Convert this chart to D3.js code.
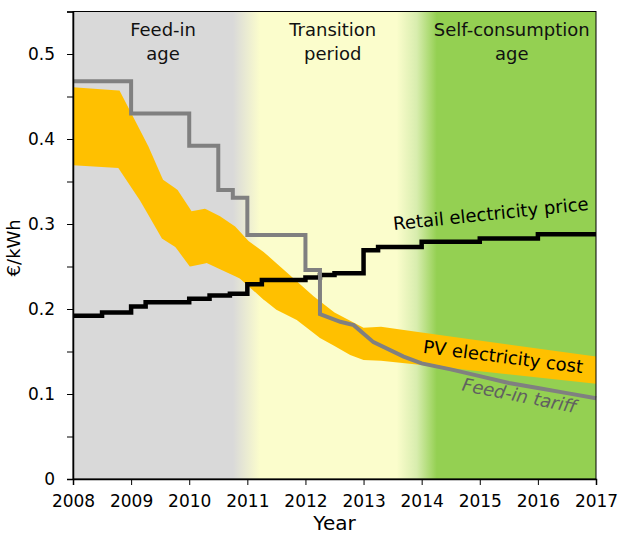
<!DOCTYPE html>
<html><head><meta charset="utf-8">
<script src="https://cdn.jsdelivr.net/npm/d3@7"></script>
<style>
body{margin:0;background:#fff;}
text{font-family:"DejaVu Sans",Verdana,sans-serif;}
</style></head>
<body><svg id="chart" width="626" height="540"></svg>
<script>
// ---- data ----
const xTickYears = [2008,2009,2010,2011,2012,2013,2014,2015,2016,2017];
const yTickValues = [0,0.05,0.1,0.15,0.2,0.25,0.3,0.35,0.4,0.45,0.5,0.55];
const yLabelValues = [0,0.1,0.2,0.3,0.4,0.5];

// retail electricity price (step-after)
const retailPrice = [
  [2008.0,0.192],[2008.5,0.196],[2009.0,0.203],[2009.25,0.208],[2010.0,0.212],
  [2010.35,0.216],[2010.7,0.218],[2011.0,0.229],[2011.25,0.234],[2012.0,0.237],
  [2012.25,0.240],[2012.5,0.242],[2013.0,0.269],[2013.25,0.273],[2014.0,0.279],
  [2015.0,0.283],[2016.0,0.288],[2017.0,0.288]
];
// feed-in tariff: steps until 2012.25, then continuous decline
const tariffSteps = [
  [2008.0,0.468],[2009.0,0.430],[2010.0,0.392],[2010.5,0.340],[2010.75,0.331],
  [2011.0,0.287],[2012.0,0.246]
];
const tariffDecline = [
  [2012.25,0.194],[2012.6,0.185],[2012.83,0.181],[2013.17,0.161],[2013.69,0.144],
  [2014.0,0.136],[2014.5,0.129],[2015.0,0.121],[2015.5,0.113],[2016.0,0.107],
  [2016.5,0.101],[2017.0,0.095]
];
// PV electricity cost band
const pvUpper = [
  [2008.0,0.461],[2008.8,0.457],[2009.3,0.391],[2009.55,0.352],[2009.8,0.340],
  [2010.04,0.315],[2010.27,0.318],[2010.53,0.309],[2010.79,0.297],[2011.02,0.280],
  [2011.3,0.266],[2011.68,0.243],[2012.14,0.215],[2012.5,0.196],[2013.0,0.178],
  [2013.3,0.179],[2017.0,0.144]
];
const pvLower = [
  [2008.0,0.369],[2008.78,0.366],[2009.15,0.328],[2009.53,0.283],[2009.76,0.273],
  [2010.01,0.250],[2010.3,0.254],[2010.87,0.236],[2011.0,0.228],[2011.28,0.211],
  [2011.5,0.199],[2011.85,0.187],[2012.25,0.166],[2012.77,0.146],[2013.0,0.140],
  [2013.3,0.139],[2014.0,0.134],[2017.0,0.112]
];
// background periods
const periodNames = [["Feed-in","age"],["Transition","period"],["Self-consumption","age"]];
const periodCenters = [2009.55, 2012.47, 2015.55];
const periodColors = ["#d9d9d9","#fbfdcc","#94d052"];
const periodFades = [[2010.75,2011.22],[2013.57,2014.26]];

// ---- layout ----
const svg = d3.select("#chart");
const L=73, R=596, T=11.5, B=479;
const x = d3.scaleLinear().domain([2008,2017]).range([L,R]);
const y = d3.scaleLinear().domain([0,0.55]).range([B,T]);
const FS = 17, LFS = 18;

// background gradient
const defs = svg.append("defs");
const grad = defs.append("linearGradient").attr("id","bg")
  .attr("gradientUnits","userSpaceOnUse")
  .attr("x1",x(2008)).attr("x2",x(2017)).attr("y1",0).attr("y2",0);
const off = v => (x(v)-x(2008))/(x(2017)-x(2008));
const stops = [
  [0,periodColors[0]],
  [off(periodFades[0][0]),periodColors[0]],
  [off(periodFades[0][1]),periodColors[1]],
  [off(periodFades[1][0]),periodColors[1]],
  [off((periodFades[1][0]+periodFades[1][1])/2),"#d8edae"],
  [off(periodFades[1][1]),periodColors[2]],
  [1,periodColors[2]]
];
grad.selectAll("stop").data(stops).join("stop")
  .attr("offset",d=>d[0]).attr("stop-color",d=>d[1]);

svg.append("rect").attr("x",L).attr("y",T).attr("width",R-L).attr("height",B-T)
  .attr("fill","url(#bg)");

// period titles
periodNames.forEach((lines,i)=>{
  const t = svg.append("text").attr("text-anchor","middle")
    .attr("font-size",LFS).attr("fill","#111");
  lines.forEach((s,j)=>{
    t.append("tspan").attr("x",x(periodCenters[i])).attr("y",36+j*24).text(s);
  });
});

// PV band
const area = d3.area()
  .x(d=>x(d[0])).y0(d=>y(d[2])).y1(d=>y(d[1]));
const bandXs = Array.from(new Set(pvUpper.map(d=>d[0]).concat(pvLower.map(d=>d[0])))).sort((a,b)=>a-b);
const interp = (arr,v)=>{
  for(let i=0;i<arr.length-1;i++){
    if(v>=arr[i][0] && v<=arr[i+1][0]){
      const t=(v-arr[i][0])/(arr[i+1][0]-arr[i][0]);
      return arr[i][1]+t*(arr[i+1][1]-arr[i][1]);
    }
  }
  return arr[arr.length-1][1];
};
const band = bandXs.map(v=>[v,interp(pvUpper,v),interp(pvLower,v)]);
svg.append("path").attr("d",area(band)).attr("fill","#ffc000");

// retail price
const stepLine = d3.line().x(d=>x(d[0])).y(d=>y(d[1])).curve(d3.curveStepAfter);
svg.append("path").attr("d",stepLine(retailPrice))
  .attr("fill","none").attr("stroke","#000").attr("stroke-width",4.5);

// feed-in tariff
const tariffPts = [];
tariffSteps.forEach((d,i)=>{
  tariffPts.push(d);
  const nx = i<tariffSteps.length-1 ? tariffSteps[i+1][0] : tariffDecline[0][0];
  tariffPts.push([nx,d[1]]);
});
tariffDecline.forEach(d=>tariffPts.push(d));
const line = d3.line().x(d=>x(d[0])).y(d=>y(d[1]));
svg.append("path").attr("d",line(tariffPts))
  .attr("fill","none").attr("stroke","#808080").attr("stroke-width",4)
  .attr("stroke-linejoin","miter");

// series labels
const labels = [
  {t:"Retail electricity price", yr:2015.20, v:0.3047, a:-5.9, c:"#000", it:false},
  {t:"PV electricity cost", yr:2015.39, v:0.1365, a:7.3, c:"#000", it:false},
  {t:"Feed-in tariff", yr:2015.66, v:0.0909, a:11.3, c:"#606060", it:true}
];
labels.forEach(d=>{
  svg.append("text").attr("text-anchor","middle").attr("font-size",LFS)
    .attr("fill",d.c).attr("font-style",d.it?"italic":"normal")
    .attr("transform",`translate(${x(d.yr)},${y(d.v)}) rotate(${d.a})`)
    .text(d.t);
});

// frame
svg.append("rect").attr("x",L).attr("y",T).attr("width",R-L).attr("height",B-T)
  .attr("fill","none").attr("stroke","#000").attr("stroke-width",1);

// axes
const xAxis = d3.axisBottom(x).tickValues(xTickYears).tickFormat(d3.format("d")).tickSize(6).tickPadding(10);
const gx = svg.append("g").attr("transform",`translate(0,${B})`).call(xAxis);
const yAxis = d3.axisLeft(y).tickValues(yTickValues)
  .tickFormat(d=> yLabelValues.some(v=>Math.abs(v-d)<1e-9) ? (d===0?"0":d3.format(".1f")(d)) : "")
  .tickSize(6).tickPadding(12);
const gy = svg.append("g").attr("transform",`translate(${L},0)`).call(yAxis);
[gx,gy].forEach(g=>{
  g.select(".domain").attr("stroke","#000").attr("stroke-width",1.5);
  g.selectAll(".tick line").attr("stroke","#000").attr("stroke-width",1);
  g.selectAll(".tick text").attr("font-size",FS).attr("fill","#000")
    .attr("font-family","'DejaVu Sans',Verdana,sans-serif");
});

// axis titles
svg.append("text").attr("x",(L+R)/2).attr("y",530).attr("text-anchor","middle")
  .attr("font-size",20).attr("fill","#000").text("Year");
svg.append("text").attr("transform",`translate(20,${y(0.272)}) rotate(-90)`)
  .attr("text-anchor","middle").attr("font-size",18).attr("fill","#000").text("€/kWh");
</script></body></html>
